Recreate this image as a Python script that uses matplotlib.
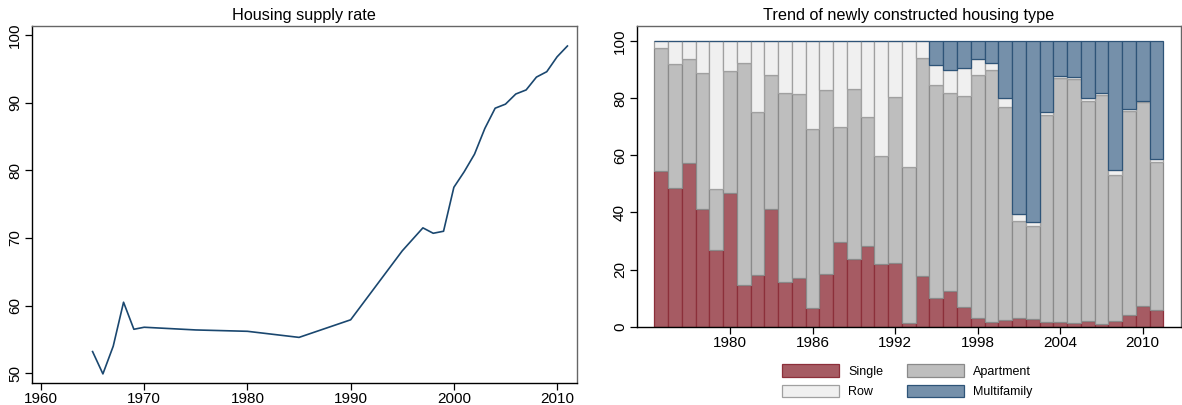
import matplotlib
matplotlib.use("Agg")
import matplotlib.pyplot as plt
import numpy as np
from matplotlib.patches import Patch

plt.rcParams['font.family'] = ['Liberation Sans', 'DejaVu Sans']

# ---- Left panel data: housing supply rate ----
supply_years = [1965, 1966, 1967, 1968, 1969, 1970, 1975, 1980, 1985, 1990, 1995,
                1997, 1998, 1999, 2000, 2001, 2002, 2003, 2004, 2005, 2006, 2007,
                2008, 2009, 2010, 2011]
supply_rate = [53.2, 49.9, 54.0, 60.5, 56.5, 56.8, 56.4, 56.2, 55.3, 57.9, 68.1,
               71.5, 70.7, 71.0, 77.5, 79.8, 82.4, 86.2, 89.2, 89.8, 91.3, 91.9,
               93.8, 94.6, 96.8, 98.4]

# ---- Right panel data: newly constructed housing type (%) ----
bar_years = list(range(1975, 2012))
single = [54.4, 48.7, 57.4, 41.3, 26.8, 46.7, 14.6, 18.0, 41.1, 15.5, 17.1, 6.4,
          18.3, 29.5, 23.6, 28.1, 21.8, 22.4, 1.2, 17.6, 9.9, 12.5, 7.0, 2.9,
          1.6, 2.2, 2.9, 2.7, 1.6, 1.5, 1.3, 2.0, 1.0, 1.9, 4.1, 7.2, 5.7]
# cumulative top of apartment segment
apartment_top = [97.4, 91.8, 93.7, 88.7, 48.2, 89.5, 92.4, 75.2, 88.2, 81.6, 81.4, 69.0,
                 82.9, 70.0, 83.1, 73.2, 59.8, 80.4, 55.9, 93.9, 84.4, 81.6, 80.7, 88.2,
                 89.9, 77.0, 37.0, 35.4, 74.2, 87.1, 86.8, 78.8, 80.9, 53.2, 75.4, 78.6, 57.6]
# cumulative top of row segment
row_top = [100, 100, 100, 100, 100, 100, 100, 100, 100, 100, 100, 100,
           100, 100, 100, 100, 100, 100, 100, 100, 91.6, 89.9, 90.5, 93.7,
           92.1, 79.9, 39.6, 36.8, 75.0, 87.8, 87.4, 80.1, 81.7, 54.7, 76.0, 79.0, 58.7]
total = 100.0
bar_ticks = [1980, 1986, 1992, 1998, 2004, 2010]

single = np.array(single)
apartment = np.array(apartment_top) - single
row = np.array(row_top) - np.array(apartment_top)
multi = total - np.array(row_top)

fig = plt.figure(figsize=(11.82, 4.05), dpi=100)

# ---------------- Left axes ----------------
ax1 = fig.add_axes([0.0268, 0.0551, 0.4611, 0.8814])
ax1.plot(supply_years, supply_rate, color='#1a476f', lw=1.2)
ax1.set_xlim(1959.1, 2011.9)
ax1.set_ylim(48.6, 101.4)
ax1.set_xticks([1960, 1970, 1980, 1990, 2000, 2010])
ax1.set_yticks([50, 60, 70, 80, 90, 100])
ax1.set_title('Housing supply rate', fontsize=11.7, pad=4)

# ---------------- Right axes ----------------
ax2 = fig.add_axes([0.5387, 0.1933, 0.4602, 0.7432])
x = np.array(bar_years)
kw = dict(width=1.0, align='center', linewidth=0.9)
ax2.bar(x, single, color='#a65b63', edgecolor='#8c2f3a', label='Single', **kw)
ax2.bar(x, apartment, bottom=single, color='#bebebe', edgecolor='#8a8a8a', label='Apartment', **kw)
ax2.bar(x, row, bottom=np.array(apartment_top), color='#f0f0f0', edgecolor='#a0a0a0', label='Row', **kw)
ax2.bar(x, multi, bottom=np.array(row_top), color='#7590aa', edgecolor='#2e5478', label='Multifamily', **kw)
ax2.set_xlim(1973.22, 2012.76)
ax2.set_ylim(0, 105.3)
ax2.set_xticks(bar_ticks)
ax2.set_yticks([0, 20, 40, 60, 80, 100])
ax2.set_title('Trend of newly constructed housing type', fontsize=11.7, pad=4)

for ax in (ax1, ax2):
    ax.spines['left'].set_color('black')
    ax.spines['bottom'].set_color('black')
    ax.spines['top'].set_color('#666666')
    ax.spines['right'].set_color('#666666')
    for s in ax.spines.values():
        s.set_linewidth(1.0)
    ax.tick_params(axis='both', direction='out', length=5, width=0.9, labelsize=11, pad=2)
    for lab in ax.get_yticklabels():
        lab.set_rotation(90)
        lab.set_va('center')

handles = [Patch(facecolor='#a65b63', edgecolor='#8c2f3a', lw=0.9),
           Patch(facecolor='#f0f0f0', edgecolor='#a0a0a0', lw=0.9),
           Patch(facecolor='#bebebe', edgecolor='#8a8a8a', lw=0.9),
           Patch(facecolor='#7590aa', edgecolor='#2e5478', lw=0.9)]
labels = ['Single', 'Row', 'Apartment', 'Multifamily']
fig.legend(handles, labels, ncol=2, loc='upper left',
           bbox_to_anchor=(782 / 1182, 1 - 364 / 405), frameon=False,
           fontsize=9, handlelength=4.6, handleheight=1.2, handletextpad=0.7,
           columnspacing=1.9, labelspacing=0.55, borderpad=0, borderaxespad=0)

fig.savefig('out.png', dpi=100)
